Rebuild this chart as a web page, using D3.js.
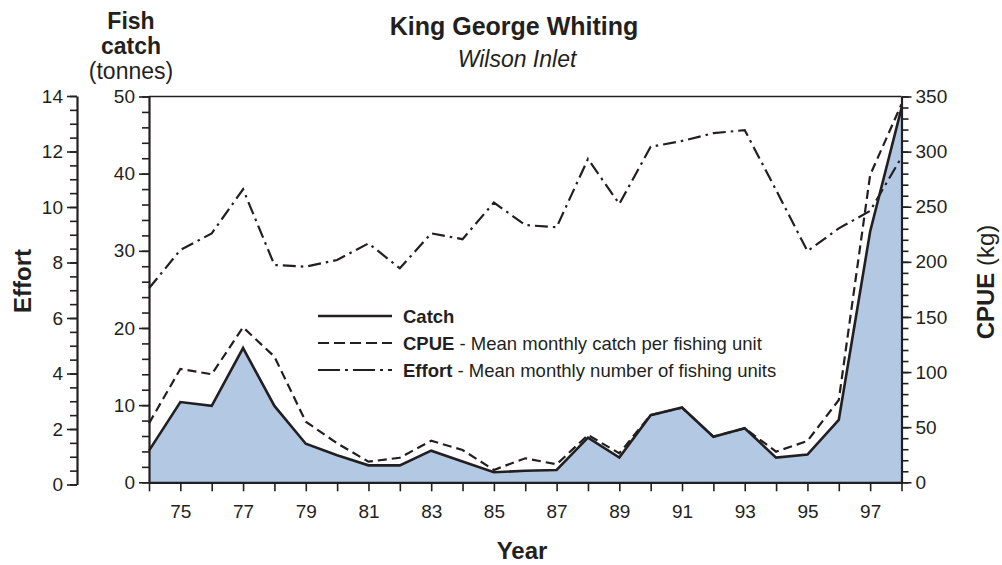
<!DOCTYPE html>
<html>
<head>
<meta charset="utf-8">
<script src="https://cdn.jsdelivr.net/npm/d3@7"></script>
<style>
  body { margin: 0; background: #fff; }
  svg { display: block; font-family: "Liberation Sans", Arial, Helvetica, sans-serif; }
  .axis path, .axis line { stroke: #231f20; }
  .axis text { fill: #231f20; font-size: 19px; }
</style>
</head>
<body>
<svg id="chart" width="1002" height="565"></svg>
<script>
// years 1974 - 1998
var years = [74, 75, 76, 77, 78, 79, 80, 81, 82, 83, 84, 85, 86, 87, 88, 89, 90, 91, 92, 93, 94, 95, 96, 97, 98];

// fish catch in tonnes
var catchTonnes = [4.1, 10.4, 9.9, 17.4, 9.9, 5.0, 3.5, 2.2, 2.2, 4.1, 2.7, 1.3, 1.5, 1.6, 5.8, 3.2, 8.7, 9.7, 5.9, 7.0, 3.2, 3.6, 8.1, 32.5, 48.5];

// CPUE in kg
var cpueKg = [53.5, 102.8, 98, 140.6, 114, 55, 35.4, 18.7, 22.3, 37.7, 29.3, 11.2, 21.8, 16.3, 42.9, 26.3, 61, 67.7, 41.4, 49, 27.8, 37.5, 74.7, 278.8, 343];

// effort, mean monthly number of fishing units
var effortUnits = [7.07, 8.45, 9.05, 10.64, 7.91, 7.85, 8.09, 8.69, 7.79, 9.05, 8.84, 10.16, 9.35, 9.27, 11.73, 10.11, 12.17, 12.38, 12.66, 12.77, 10.61, 8.41, 9.23, 9.86, 11.79];

// tick values
var xLabelYears = [75, 77, 79, 81, 83, 85, 87, 89, 91, 93, 95, 97];
var effortTicks = [0, 2, 4, 6, 8, 10, 12, 14];
var catchTicks = [0, 10, 20, 30, 40, 50];
var cpueTicks = [0, 50, 100, 150, 200, 250, 300, 350];

var legendItems = [
  { bold: "Catch", rest: "", dash: null },
  { bold: "CPUE", rest: " - Mean monthly catch per fishing unit", dash: "11,5" },
  { bold: "Effort", rest: " - Mean monthly number of fishing units", dash: "22,5,3,5" }
];

var svg = d3.select("#chart");
var ink = "#231f20";

var plotLeft = 149, plotRight = 901.5, plotBottom = 482.3, plotTop = 96.5;

var x = d3.scaleLinear().domain([74, 98]).range([plotLeft, plotRight]);
var yCatch = d3.scaleLinear().domain([0, 50]).range([plotBottom, plotTop]);
var yCpue = d3.scaleLinear().domain([0, 350]).range([plotBottom, plotTop]);
var yEffort = d3.scaleLinear().domain([0, 14]).range([484.5, 96]);

var rows = years.map(function(y, i) {
  return { year: y, c: catchTonnes[i], p: cpueKg[i], e: effortUnits[i] };
});

// catch area
svg.append("path")
  .datum(rows)
  .attr("fill", "#b3c9e3")
  .attr("d", d3.area()
    .x(function(d) { return x(d.year); })
    .y0(yCatch(0))
    .y1(function(d) { return yCatch(d.c); }));

// effort line
svg.append("path")
  .datum(rows)
  .attr("fill", "none")
  .attr("stroke", ink)
  .attr("stroke-width", 2.2)
  .attr("stroke-dasharray", "13,5,2.5,5")
  .attr("d", d3.line()
    .x(function(d) { return x(d.year); })
    .y(function(d) { return yEffort(d.e); }));

// cpue line
svg.append("path")
  .datum(rows)
  .attr("fill", "none")
  .attr("stroke", ink)
  .attr("stroke-width", 2.2)
  .attr("stroke-dasharray", "9,5")
  .attr("d", d3.line()
    .x(function(d) { return x(d.year); })
    .y(function(d) { return yCpue(d.p); }));

// catch line
svg.append("path")
  .datum(rows)
  .attr("fill", "none")
  .attr("stroke", ink)
  .attr("stroke-width", 2.6)
  .attr("d", d3.line()
    .x(function(d) { return x(d.year); })
    .y(function(d) { return yCatch(d.c); }));

// top frame
svg.append("line")
  .attr("x1", plotLeft).attr("x2", plotRight)
  .attr("y1", plotTop).attr("y2", plotTop)
  .attr("stroke", ink).attr("stroke-width", 1.5);

// x axis: a tick every year, labels every other year
svg.append("g")
  .attr("class", "axis")
  .attr("transform", "translate(0," + plotBottom + ")")
  .call(d3.axisBottom(x).tickValues(years).tickSize(9).tickSizeOuter(0).tickFormat(""))
  .call(function(g) { g.select("path").attr("stroke-width", 2.2); g.selectAll("line").attr("stroke-width", 1.6); });

svg.append("g")
  .attr("class", "axis")
  .attr("transform", "translate(0," + plotBottom + ")")
  .call(d3.axisBottom(x).tickValues(xLabelYears).tickSize(0).tickPadding(22).tickFormat(d3.format("d")))
  .call(function(g) { g.select("path").remove(); });

// helper for axes with minor ticks
function drawAxis(axisFn, scale, xPos, majors, minorStep, labelFormat) {
  var dom = scale.domain();
  var minors = [];
  for (var v = dom[0]; v <= dom[1] + 1e-9; v += minorStep) minors.push(+v.toFixed(3));
  var g = svg.append("g")
    .attr("class", "axis")
    .attr("transform", "translate(" + xPos + ",0)");
  g.call(axisFn(scale).tickValues(minors).tickSize(7).tickSizeOuter(0).tickFormat(""));
  g.select("path").attr("stroke-width", 2.2);
  g.selectAll("line").attr("stroke-width", 1.6);
  var g2 = svg.append("g")
    .attr("class", "axis")
    .attr("transform", "translate(" + xPos + ",0)");
  g2.call(axisFn(scale).tickValues(majors).tickSize(10).tickPadding(4).tickFormat(labelFormat));
  g2.select("path").remove();
  g2.selectAll("line").attr("stroke-width", 1.6);
}

drawAxis(d3.axisLeft, yEffort, 77, effortTicks, 0.5, d3.format("d"));
drawAxis(d3.axisLeft, yCatch, plotLeft, catchTicks, 2, d3.format("d"));
drawAxis(d3.axisRight, yCpue, plotRight, cpueTicks, 10, d3.format("d"));

// titles
svg.append("text")
  .attr("x", 514).attr("y", 35)
  .attr("text-anchor", "middle")
  .attr("font-size", 25).attr("font-weight", "bold").attr("fill", ink)
  .text("King George Whiting");

svg.append("text")
  .attr("x", 517).attr("y", 67)
  .attr("text-anchor", "middle")
  .attr("font-size", 23).attr("font-style", "italic").attr("fill", ink)
  .text("Wilson Inlet");

// fish catch label
var fc = svg.append("text")
  .attr("text-anchor", "middle").attr("fill", ink).attr("font-size", 23);
fc.append("tspan").attr("x", 131).attr("y", 29).attr("font-weight", "bold").text("Fish");
fc.append("tspan").attr("x", 131).attr("y", 54).attr("font-weight", "bold").text("catch");
fc.append("tspan").attr("x", 131).attr("y", 79).text("(tonnes)");

// effort label
svg.append("text")
  .attr("transform", "translate(31,281) rotate(-90)")
  .attr("text-anchor", "middle")
  .attr("font-size", 24).attr("font-weight", "bold").attr("fill", ink)
  .text("Effort");

// cpue label
var cl = svg.append("text")
  .attr("transform", "translate(994,282) rotate(-90)")
  .attr("text-anchor", "middle")
  .attr("font-size", 24).attr("fill", ink);
cl.append("tspan").attr("font-weight", "bold").text("CPUE");
cl.append("tspan").text(" (kg)");

// year label
svg.append("text")
  .attr("x", 522).attr("y", 559)
  .attr("text-anchor", "middle")
  .attr("font-size", 24).attr("font-weight", "bold").attr("fill", ink)
  .text("Year");

// legend
var legend = svg.append("g").attr("transform", "translate(318,316)");
legendItems.forEach(function(d, i) {
  var row = legend.append("g").attr("transform", "translate(0," + (i * 27) + ")");
  row.append("line")
    .attr("x1", 0).attr("x2", 74)
    .attr("stroke", ink)
    .attr("stroke-width", d.dash ? 2.2 : 2.6)
    .attr("stroke-dasharray", d.dash);
  var t = row.append("text")
    .attr("x", 85).attr("y", 7)
    .attr("font-size", 18.5).attr("fill", ink);
  t.append("tspan").attr("font-weight", "bold").text(d.bold);
  t.append("tspan").text(d.rest);
});
</script>
</body>
</html>
